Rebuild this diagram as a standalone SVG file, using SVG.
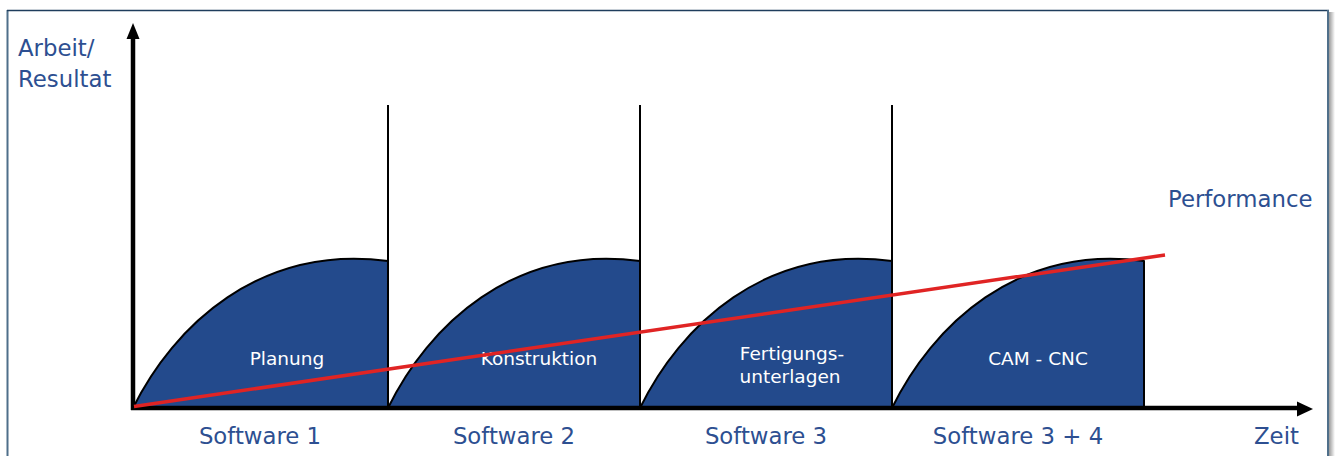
<svg xmlns="http://www.w3.org/2000/svg" width="1335" height="456" viewBox="0 0 1335 456">
<defs>
<linearGradient id="shadow" x1="0" x2="1" y1="0" y2="0">
<stop offset="0" stop-color="#9a9a9a"/>
<stop offset="1" stop-color="#ffffff"/>
</linearGradient>
<path id="hump" d="M0,0 C40,-82 125,-164 252,-147 L252,0 Z"/>
</defs>
<style>
.axis{stroke:#000;stroke-width:4.5;fill:none}
.sep{stroke:#000;stroke-width:2;fill:none}
.hump{fill:#234a8c;stroke:#000;stroke-width:2;stroke-linejoin:round}
.lbl{font-family:"DejaVu Sans",Verdana,sans-serif;fill:#2d4f91;font-size:22.8px}
.in{font-family:"DejaVu Sans",Verdana,sans-serif;fill:#ffffff;font-size:18.5px;text-anchor:middle}
.red{stroke:#e02424;stroke-width:3.5;fill:none;stroke-linecap:butt}
</style>
<rect width="1335" height="456" fill="#ffffff"/>
<g id="frame">
<rect x="1329" y="12" width="6" height="444" fill="url(#shadow)"/>
<line x1="7.5" y1="10" x2="7.5" y2="456" stroke="#4f6f8a" stroke-width="2"/>
<line x1="7" y1="10.5" x2="1329" y2="10.5" stroke="#1f3d5c" stroke-width="1.5"/>
<line x1="1328" y1="10" x2="1328" y2="456" stroke="#4f6f8a" stroke-width="2"/>
</g>
<g id="separators">
<line class="sep" x1="388" y1="105" x2="388" y2="408"/>
<line class="sep" x1="640" y1="105" x2="640" y2="408"/>
<line class="sep" x1="892" y1="105" x2="892" y2="408"/>
</g>
<g id="phase1">
<use href="#hump" class="hump" transform="translate(133,408) scale(1.0119,1)"/>
<text class="in" x="287" y="365">Planung</text>
</g>
<g id="phase2">
<use href="#hump" class="hump" transform="translate(388,408)"/>
<text class="in" x="539" y="365">Konstruktion</text>
</g>
<g id="phase3">
<use href="#hump" class="hump" transform="translate(640,408)"/>
<text class="in" x="792" y="360">Fertigungs-</text>
<text class="in" x="790" y="383">unterlagen</text>
</g>
<g id="phase4">
<use href="#hump" class="hump" transform="translate(892,408)"/>
<text class="in" x="1038" y="365">CAM - CNC</text>
</g>
<g id="connectors">
<line class="axis" x1="133" y1="410" x2="133" y2="38"/>
<polygon points="133,23 126.5,39 139.5,39" fill="#000"/>
<line class="axis" x1="131" y1="408" x2="1298" y2="408"/>
<polygon points="1313,409 1297,401.5 1297,416.5" fill="#000"/>
<line class="red" x1="134" y1="406.5" x2="1165" y2="255"/>
</g>
<g id="labels">
<text class="lbl" x="18" y="56">Arbeit/</text>
<text class="lbl" x="18" y="87">Resultat</text>
<text class="lbl" x="1168" y="207">Performance</text>
<text class="lbl" x="260" y="444" text-anchor="middle">Software 1</text>
<text class="lbl" x="514" y="444" text-anchor="middle">Software 2</text>
<text class="lbl" x="766" y="444" text-anchor="middle">Software 3</text>
<text class="lbl" x="1018" y="444" text-anchor="middle">Software 3 + 4</text>
<text class="lbl" x="1254" y="444">Zeit</text>
</g>
</svg>
